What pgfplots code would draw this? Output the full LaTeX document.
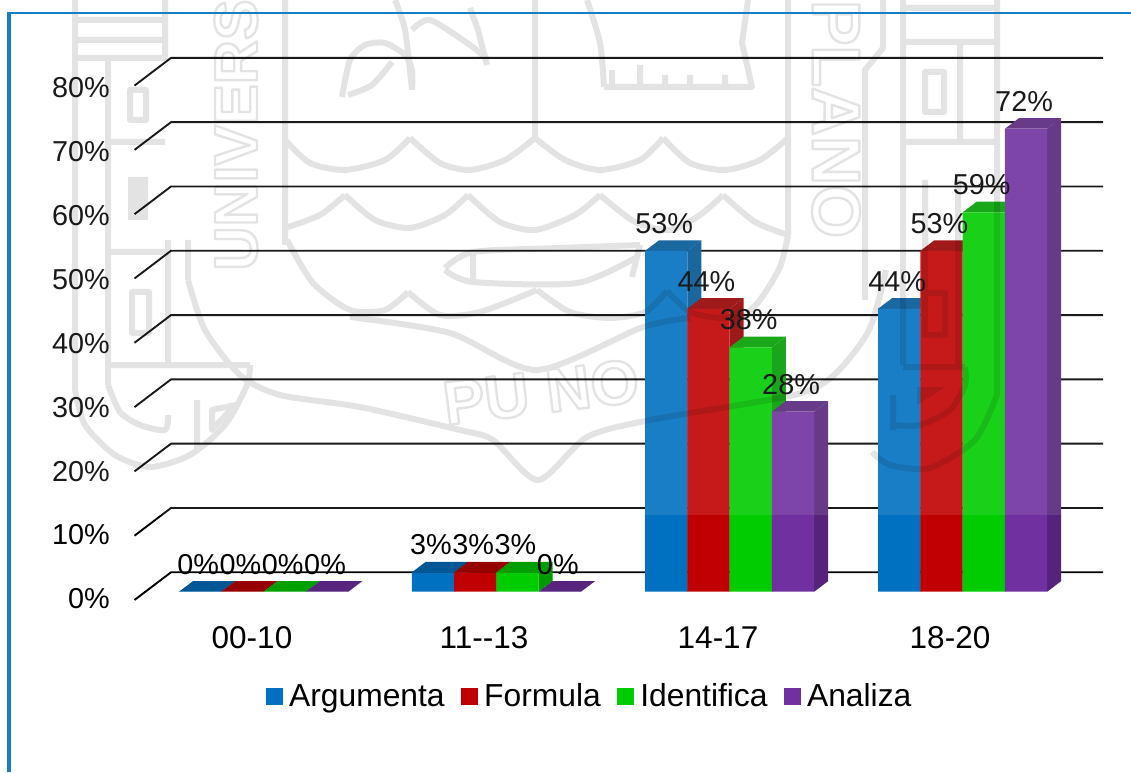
\documentclass[border=0pt]{standalone}
\usepackage{fontspec}
\setmainfont{Liberation Sans}
\usepackage{pgfplots}
\usepackage{pgfplotstable}
\pgfplotsset{compat=1.18}
\definecolor{cA}{HTML}{0070C0}
\definecolor{cF}{HTML}{C00000}
\definecolor{cI}{HTML}{00CC00}
\definecolor{cZ}{HTML}{7030A0}
\pgfplotstableread{
x v
200.15 0
432.9 3
666.15 53
899.15 44
}\tA
\pgfplotstableread{
x v
242.45 0
475.2 3
708.45 44
941.45 53
}\tF
\pgfplotstableread{
x v
284.75 0
517.5 3
750.75 38
983.75 59
}\tI
\pgfplotstableread{
x v
327.05 0
559.8 0
793.05 28
1026.05 72
}\tZ
\pgfplotstableread{
x v
198.15 0
240.45 0
282.75 0
325.05 0
430.9 3
473.2 3
515.5 3
557.8 0
664.15 53
706.45 44
748.75 38
791.05 28
897.15 44
939.45 53
981.75 59
1024.05 72
}\tL
\newcommand\cube[3]{%
 \pgfmathsetmacro\xl{#1-21.15}\pgfmathsetmacro\xr{#1+21.15}%
 \pgfmathsetmacro\xb{#1-7.15}\pgfmathsetmacro\xs{#1+35.15}%
 \pgfmathsetmacro\vb{#2+1.65}%
 \edef\temp{\noexpand\addplot[fill=#3!76!black,draw=none,forget plot] coordinates {(\xr,0) (\xr,#2) (\xs,\vb) (\xs,1.65)} --cycle;
 \noexpand\addplot[fill=#3!78!black,draw=none,forget plot] coordinates {(\xl,#2) (\xr,#2) (\xs,\vb) (\xb,\vb)} --cycle;}\temp}
\newcommand\gridl[1]{%
 \pgfmathsetmacro\ga{#1-1.29}\pgfmathsetmacro\gb{#1+3.02}%
 \edef\temp{\noexpand\addplot[black,line width=1.9pt,forget plot,line join=round] coordinates {(134.5,\ga) (171,\gb) (1103,\gb)};}\temp}
\newcommand\wm[1]{\draw plot[smooth,tension=.45] coordinates {#1};}
\newcommand\outl[1]{\special{pdf:code 1 Tr 2.4 w}#1\special{pdf:code 0 Tr 1 w}}
\begin{document}
\begin{tikzpicture}
\useasboundingbox (0,0) rectangle (1131pt,772pt);
\begin{axis}[
 at={(0,0)},anchor=south west,
 scale only axis,width=1131pt,height=772pt,
 xmin=0,xmax=1131,ymin=-28.04,ymax=92.02,
 axis line style={draw=none},
 major tick length=0pt,
 tick style={draw=none},
 xtick={252,484,718,950},
 xticklabels={00-10,11-{}-13,14-17,18-20},
 xticklabel style={font=\fontsize{31.5}{36}\selectfont,inner sep=0pt,anchor=center,yshift=134pt},
 ytick={-1.13,8.81,18.75,28.69,38.63,48.57,58.51,68.45,78.39},
 yticklabels={0\%,10\%,20\%,30\%,40\%,50\%,60\%,70\%,80\%},
 yticklabel style={font=\fontsize{28.8}{32}\selectfont,inner sep=0pt,anchor=east,xshift=110pt},
 legend columns=4,
 legend cell align=left,
 legend style={draw=none,fill=none,at={(588.5pt,76pt)},anchor=center,
   font=\fontsize{31.8}{36}\selectfont,inner sep=0pt,
   /tikz/every even column/.append style={column sep=16pt},
   /tikz/every odd column/.append style={column sep=6.5pt},
   nodes={inner sep=0pt,anchor=west}},
 legend image code/.code={\fill[#1] (0pt,-8.5pt) rectangle (17pt,8.5pt);},
 clip=false,
]
\gridl{0}\gridl{10}\gridl{20}\gridl{30}\gridl{40}\gridl{50}\gridl{60}\gridl{70}\gridl{80}
\cube{200.15}{0}{cA}\cube{432.9}{3}{cA}\cube{666.15}{53}{cA}\cube{899.15}{44}{cA}
\addplot[ybar,bar shift=0pt,bar width=42.3pt,fill=cA,draw=none] table[x=x,y=v]{\tA};
\addlegendentry{Argumenta}
\cube{242.45}{0}{cF}\cube{475.2}{3}{cF}\cube{708.45}{44}{cF}\cube{941.45}{53}{cF}
\addplot[ybar,bar shift=0pt,bar width=42.3pt,fill=cF,draw=none] table[x=x,y=v]{\tF};
\addlegendentry{Formula}
\cube{284.75}{0}{cI}\cube{517.5}{3}{cI}\cube{750.75}{38}{cI}\cube{983.75}{59}{cI}
\addplot[ybar,bar shift=0pt,bar width=42.3pt,fill=cI,draw=none] table[x=x,y=v]{\tI};
\addlegendentry{Identifica}
\cube{327.05}{0}{cZ}\cube{559.8}{0}{cZ}\cube{793.05}{28}{cZ}\cube{1026.05}{72}{cZ}
\addplot[ybar,bar shift=0pt,bar width=42.3pt,fill=cZ,draw=none] table[x=x,y=v]{\tZ};
\addlegendentry{Analiza}
\addplot[draw=none,mark=none,forget plot,point meta=y,
  nodes near coords={\pgfmathprintnumber[fixed,precision=0,assume math mode=true]{\pgfplotspointmeta}\%},
  every node near coord/.append style={anchor=center,yshift=27.5pt,inner sep=0pt,
    font=\fontsize{28.8}{32}\selectfont}]
  table[x=x,y=v]{\tL};
\end{axis}
\begin{scope}[x=1pt,y=-1pt,yshift=772pt]
 \fill[white,opacity=.1] (0,0) rectangle (1131,515);
 \begin{scope}[transparency group,opacity=.11]
 \begin{scope}[line width=6pt,black,line join=round]
  % left tower
  \draw (75,0) -- (75,390);
  \wm{(75,390) (85,425) (115,455) (150,467) (190,455) (225,425) (247,385) (250,365)}
  \draw (108,60) -- (108,385);
  \wm{(108,385) (120,412) (140,425) (165,430) (168,415)}
  \draw (72,20) -- (165,20) (72,40) -- (165,40) (72,58) -- (165,58);
  \draw (165,0) -- (165,60);
  \draw (130,90) rectangle (146,120);
  \fill (128,177) rectangle (148,220);
  \draw (110,142) -- (165,142) (110,252) -- (165,252);
  \draw (168,240) -- (168,365) (108,365) -- (250,365);
  \draw (132,292) rectangle (149,333);
  \draw (197,400) -- (197,450);
  \draw (212,410) -- (235,405) -- (212,430) -- cycle;
  % seal border
  \draw (188,240) -- (188,280);
  \wm{(188,280) (205,330) (240,375) (280,395) (360,407) (460,430) (493,440) (538,480) (587,437) (650,420) (794,395) (834,375) (869,330) (886,270)}
  \draw (285,0) -- (285,245);
  \draw (788,0) -- (788,235);
  \draw (535,0) -- (535,138);
  % scallops
  \wm{(285,140) (310,163) (345,170) (385,160) (410,138)}
  \wm{(410,138) (440,163) (470,170) (505,160) (535,138)}
  \wm{(535,138) (565,160) (600,170) (640,160) (663,138)}
  \wm{(663,138) (690,163) (725,170) (760,160) (788,138)}
  \wm{(285,228) (320,215) (345,195)}
  \wm{(345,195) (375,220) (410,228) (445,215) (468,195)}
  \wm{(468,195) (500,222) (535,230) (575,215) (600,195)}
  \wm{(600,195) (635,222) (670,230) (700,215) (723,195)}
  \wm{(723,195) (755,222) (788,235)}
  % shield sides
  \wm{(287,240) (313,283) (350,310) (385,310) (408,292)}
  \wm{(408,292) (440,315) (480,312) (537,290)}
  \wm{(537,290) (570,312) (610,318) (645,312) (667,291)}
  \wm{(667,291) (690,312) (720,318) (743,317)}
  \wm{(788,235) (780,267) (760,300) (743,317)}
  % fish
  \wm{(445,268) (473,252) (560,248) (640,245)}
  \wm{(445,270) (473,282) (577,283) (637,257)}
  \draw (640,245) -- (632,277);
  \draw (473,252) -- (473,282);
  % lower band
  \wm{(350,317) (450,333) (537,370) (643,327) (690,318)}
  % top figures
  \wm{(342,97) (350,60) (365,45) (385,43) (405,55) (412,70) (412,90)}
  \wm{(392,62) (372,85) (348,95)}
  \wm{(395,0) (405,30) (412,90)}
  \wm{(412,30) (430,20) (470,45) (488,60)}
  \draw (470,8) -- (478,30) -- (487,65);
  \wm{(587,0) (600,43) (604,87)}
  \draw (604,87) -- (752,87) -- (742,43) -- (748,0);
  \draw (612,70) -- (612,86) (640,65) -- (640,86) (665,75) -- (665,86) (690,75) -- (690,86) (725,75) -- (725,86);
  % right tower
  \draw (883,0) -- (883,48) -- (865,70) -- (865,300);
  \draw (903,0) -- (903,365) (997,0) -- (997,395);
  \draw (903,8) -- (997,8) (903,42) -- (997,42) (903,142) -- (997,142);
  \draw (960,45) -- (960,140);
  \draw (925,72) rectangle (944,112);
  \draw (925,180) -- (925,290) (958,180) -- (958,365);
  \draw (925,293) rectangle (945,335);
  \draw (903,367) -- (965,367);
  \wm{(965,367) (965,385) (950,410) (920,425) (893,425)}
  \fill (917,387) -- (945,387) -- (917,405) -- cycle;
  \draw (893,395) -- (893,430);
  \wm{(997,395) (975,440) (930,468) (890,465) (872,452)}
  % lettering of the seal
  \node[rotate=90,font=\bfseries\fontsize{61}{61}\selectfont,inner sep=0pt] at (236,135) {\outl{UNIVERS}};
  \node[rotate=-90,font=\bfseries\fontsize{68}{68}\selectfont,inner sep=0pt] at (836,119) {\outl{PLANO}};
  \node[rotate=7,font=\bfseries\fontsize{62}{62}\selectfont,inner sep=0pt] at (541,392) {\outl{PU NO}};
 \end{scope}
 \end{scope}
 % frame
 \fill[cA!90!white] (6.7,12.3) rectangle (1131,14.3);
 \fill[cA!90!white] (6.7,12.3) rectangle (11,772);
\end{scope}
\end{tikzpicture}
\end{document}
